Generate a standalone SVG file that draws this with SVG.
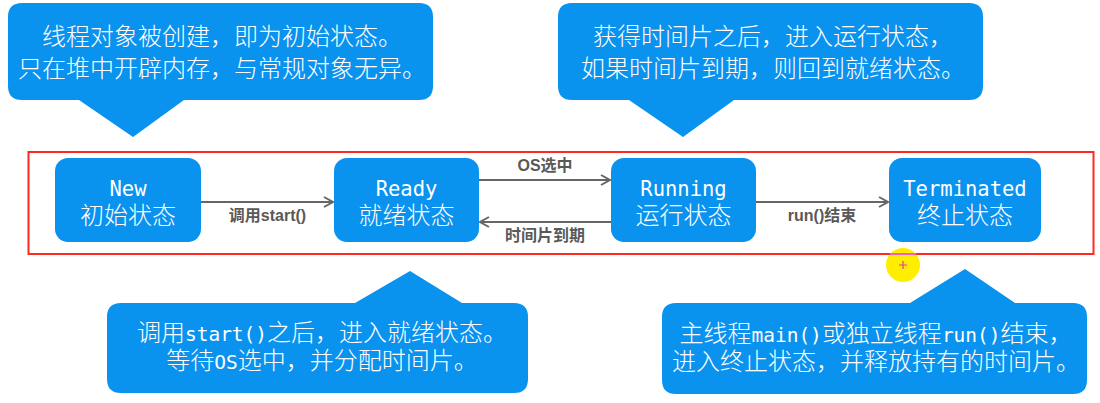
<svg xmlns="http://www.w3.org/2000/svg" width="1100" height="403" viewBox="0 0 1100 403">
<style>
.bub{fill:#0A92EF}
.node{fill:#0A92EF}
.t{font-family:"Noto Sans CJK SC",sans-serif;font-size:24px;font-weight:300;fill:#fff;text-anchor:middle}
.m{font-family:"DejaVu Sans Mono",monospace;font-size:19.5px;font-weight:300}
.en{font-family:"DejaVu Sans Mono",monospace;font-size:20.5px;font-weight:300}
.lbl{font-family:"Liberation Sans","Noto Sans CJK SC",sans-serif;font-size:16px;font-weight:bold;fill:#595959;text-anchor:middle}
.edge{stroke:#666;stroke-width:2;fill:none;marker-end:url(#arr)}
</style>
<defs>
<marker id="arr" markerUnits="userSpaceOnUse" markerWidth="14" markerHeight="14" refX="10" refY="6" orient="auto">
<path d="M1,1 L10,6 L1,11" fill="none" stroke="#666" stroke-width="2"/>
</marker>
</defs>
<rect width="1100" height="403" fill="#fff"/>

<g id="callout-new">
<path class="bub" d="M22,3 H419 Q433,3 433,17 V86 Q433,100 419,100 H184 L133,137 L79,100 H22 Q8,100 8,86 V17 Q8,3 22,3 Z"/>
<text class="t"><tspan x="222" y="45">线程对象被创建，即为初始状态。</tspan><tspan x="222" y="77">只在堆中开辟内存，与常规对象无异。</tspan></text>
</g>

<g id="callout-running">
<path class="bub" d="M572,3 H969 Q983,3 983,17 V86 Q983,100 969,100 H734 L683,137 L629,100 H572 Q558,100 558,86 V17 Q558,3 572,3 Z"/>
<text class="t"><tspan x="773" y="45">获得时间片之后，进入运行状态，</tspan><tspan x="773" y="77">如果时间片到期，则回到就绪状态。</tspan></text>
</g>

<g id="callout-ready">
<path class="bub" d="M121,303 H355 L410,271 L462,303 H514 Q528,303 528,317 V379 Q528,393 514,393 H121 Q107,393 107,379 V317 Q107,303 121,303 Z"/>
<text class="t"><tspan x="322" y="341">调用<tspan class="m">start()</tspan>之后，进入就绪状态。</tspan><tspan x="322" y="369">等待<tspan class="m">OS</tspan>选中，并分配时间片。</tspan></text>
</g>

<g id="callout-terminated">
<path class="bub" d="M676,303 H910 L965,269 L1015,303 H1073 Q1087,303 1087,317 V380 Q1087,394 1073,394 H676 Q662,394 662,380 V317 Q662,303 676,303 Z"/>
<text class="t"><tspan x="876" y="342">主线程<tspan class="m">main()</tspan>或独立线程<tspan class="m">run()</tspan>结束，</tspan><tspan x="876" y="370">进入终止状态，并释放持有的时间片。</tspan></text>
</g>

<g id="highlight">
<circle cx="903" cy="265" r="17" fill="#FFEE00"/>
<path d="M899,265 H907 M903,261 V269" stroke="#E0409A" stroke-width="1.2"/>
</g>

<g id="frame">
<rect x="28.5" y="152" width="1065" height="102" fill="none" stroke="#FF2A1F" stroke-width="2"/>
<line x1="890" y1="254" x2="916" y2="254" stroke="#F060C0" stroke-width="2"/>
</g>

<g id="node-new">
<rect class="node" x="55" y="158" width="146" height="84" rx="13"/>
<text class="t"><tspan class="en" x="128" y="196">New</tspan><tspan x="128" y="224">初始状态</tspan></text>
</g>
<g id="node-ready">
<rect class="node" x="334" y="158" width="145" height="84" rx="13"/>
<text class="t"><tspan class="en" x="406.5" y="196">Ready</tspan><tspan x="406.5" y="224">就绪状态</tspan></text>
</g>
<g id="node-running">
<rect class="node" x="611" y="158" width="145" height="84" rx="13"/>
<text class="t"><tspan class="en" x="683.5" y="196">Running</tspan><tspan x="683.5" y="224">运行状态</tspan></text>
</g>
<g id="node-terminated">
<rect class="node" x="889" y="158" width="152" height="84" rx="13"/>
<text class="t"><tspan class="en" x="965" y="196">Terminated</tspan><tspan x="965" y="224">终止状态</tspan></text>
</g>

<g id="connectors">
<path class="edge" d="M201,202 H333"/>
<path class="edge" d="M479,180 H610"/>
<path class="edge" d="M611,222 H480"/>
<path class="edge" d="M756,202 H888"/>
<text class="lbl" x="267.5" y="221">调用start()</text>
<text class="lbl" x="545" y="171">OS选中</text>
<text class="lbl" x="545" y="241">时间片到期</text>
<text class="lbl" x="822" y="221">run()结束</text>
</g>
</svg>
